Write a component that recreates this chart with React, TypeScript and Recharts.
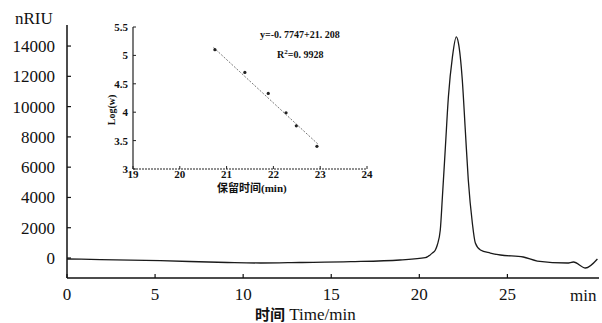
import { LineChart, Line, XAxis, YAxis, ComposedChart, Scatter } from "recharts";

// main chromatogram, time (min) vs signal (nRIU)
const traceTime = [
  0, 1.9, 5.3, 9.1, 11.0, 13.2, 16.1, 18.9, 20.34, 20.74, 20.91, 21.02, 21.19, 21.31, 21.48, 21.65,
  21.88, 22.1, 22.22, 22.44, 22.61, 22.78, 23.01, 23.18, 23.47, 24.03, 24.6, 25.9, 26.7, 28.4, 28.75,
  29.43, 30.11,
];
const traceSignal = [
  -66, -100, -178, -297, -330, -297, -244, -132, 20, 330, 528, 860, 1850, 4030, 7330, 10630, 13280,
  14600, 14200, 11760, 8450, 5150, 2310, 990, 530, 330, 200, 66, -200, -330, -264, -660, -66,
];
const timeTicks = [0, 5, 10, 15, 20, 25];
const signalTicks = [0, 2000, 4000, 6000, 8000, 10000, 12000, 14000];

// inset calibration: retention time vs Log(w)
const calibTime = [20.75, 21.39, 21.89, 22.27, 22.49, 22.93];
const calibLog = [5.1, 4.7, 4.33, 3.99, 3.76, 3.4];
const fitTime = [20.72, 22.95];
const fitLog = [5.14, 3.44];
const insetXTicks = [19, 20, 21, 22, 23, 24];
const insetYTicks = [3, 3.5, 4, 4.5, 5, 5.5];

const trace = traceTime.map((t, i) => ({ t, v: traceSignal[i] }));
const calib = calibTime.map((t, i) => ({ t, w: calibLog[i] }));
const fit = fitTime.map((t, i) => ({ t, w: fitLog[i] }));

const serif = "'Liberation Serif', 'DejaVu Serif', serif";
const cjk = "'Noto Sans CJK SC', sans-serif";

export default function App() {
  return (
    <div style={pageStyle}>
      <LineChart width={602} height={323} data={trace} margin={{ top: 25, right: 3, bottom: 0, left: 0 }}>
        <XAxis
          dataKey="t"
          type="number"
          domain={[0, 30.2]}
          ticks={timeTicks}
          allowDataOverflow
          height={45}
          tickSize={-4}
          tickMargin={14}
          tick={{ fill: "#111", fontSize: 17, fontFamily: serif }}
          axisLine={{ stroke: "#111", strokeWidth: 1.5 }}
          tickLine={{ stroke: "#111", strokeWidth: 1.2 }}
        />
        <YAxis
          type="number"
          domain={[-1320, 15390]}
          ticks={signalTicks}
          allowDataOverflow
          width={67}
          tickSize={-4}
          tickMargin={16}
          tick={{ fill: "#111", fontSize: 17, fontFamily: serif }}
          axisLine={{ stroke: "#111", strokeWidth: 1.5 }}
          tickLine={{ stroke: "#111", strokeWidth: 1.2 }}
        />
        <Line
          dataKey="v"
          type="monotone"
          stroke="#1a1a1a"
          strokeWidth={1.3}
          dot={false}
          isAnimationActive={false}
        />
      </LineChart>

      <div style={{ ...textStyle, left: 15, top: 9 }}>nRIU</div>
      <div style={{ ...textStyle, left: 570, top: 286 }}>min</div>
      <div style={{ ...textStyle, left: 255, top: 305, lineHeight: "17px" }}>
        <span style={{ fontFamily: cjk, fontWeight: 700, fontSize: 15 }}>时间</span> Time/min
      </div>

      <div style={{ position: "absolute", left: 90, top: 10 }}>
        <ComposedChart width={290} height={190} margin={{ top: 17, right: 13, bottom: 0, left: 0 }}>
          <XAxis
            dataKey="t"
            type="number"
            domain={[19, 24]}
            ticks={insetXTicks}
            allowDataOverflow
            height={31}
            tickSize={-3}
            tickMargin={4}
            tick={{ fill: "#111", fontSize: 11, fontWeight: 700, fontFamily: serif }}
            axisLine={{ stroke: "#222", strokeWidth: 1.2, strokeDasharray: "2 1" }}
            tickLine={{ stroke: "#222" }}
          />
          <YAxis
            dataKey="w"
            type="number"
            domain={[3, 5.5]}
            ticks={insetYTicks}
            allowDataOverflow
            width={43}
            tickSize={-3}
            tickMargin={8}
            tick={{ fill: "#111", fontSize: 11, fontWeight: 700, fontFamily: serif }}
            axisLine={{ stroke: "#222", strokeWidth: 1.2 }}
            tickLine={{ stroke: "#222" }}
          />
          <Line
            data={fit}
            dataKey="w"
            type="linear"
            stroke="#555"
            strokeWidth={0.8}
            strokeDasharray="2 1.5"
            dot={false}
            isAnimationActive={false}
          />
          <Scatter data={calib} dataKey="w" fill="#222" shape={<Dot />} isAnimationActive={false} />
        </ComposedChart>
      </div>

      <div style={{ ...insetText, left: 260, top: 28 }}>y=-0. 7747+21. 208</div>
      <div style={{ ...insetText, left: 277, top: 45 }}>
        R<sup style={{ fontSize: 7 }}>2</sup>=0. 9928
      </div>
      <div style={{ ...insetText, left: 92, top: 103, transform: "rotate(-90deg)", width: 40, textAlign: "center" }}>
        Log(w)
      </div>
      <div style={{ ...insetText, left: 217, top: 181, fontSize: 11, lineHeight: "13px" }}>
        <span style={{ fontFamily: cjk }}>保留时间</span>(min)
      </div>
    </div>
  );
}

function Dot(props: any) {
  return <circle cx={props.cx} cy={props.cy} r={1.6} fill="#222" />;
}

const pageStyle: React.CSSProperties = {
  position: "absolute",
  left: 0,
  top: 0,
  width: 602,
  height: 323,
  background: "#fff",
};

const textStyle: React.CSSProperties = {
  position: "absolute",
  fontFamily: serif,
  fontSize: 17,
  color: "#111",
  lineHeight: "20px",
  whiteSpace: "nowrap",
};

const insetText: React.CSSProperties = {
  position: "absolute",
  fontFamily: serif,
  fontSize: 10,
  fontWeight: 700,
  color: "#111",
  lineHeight: "14px",
  whiteSpace: "nowrap",
};
